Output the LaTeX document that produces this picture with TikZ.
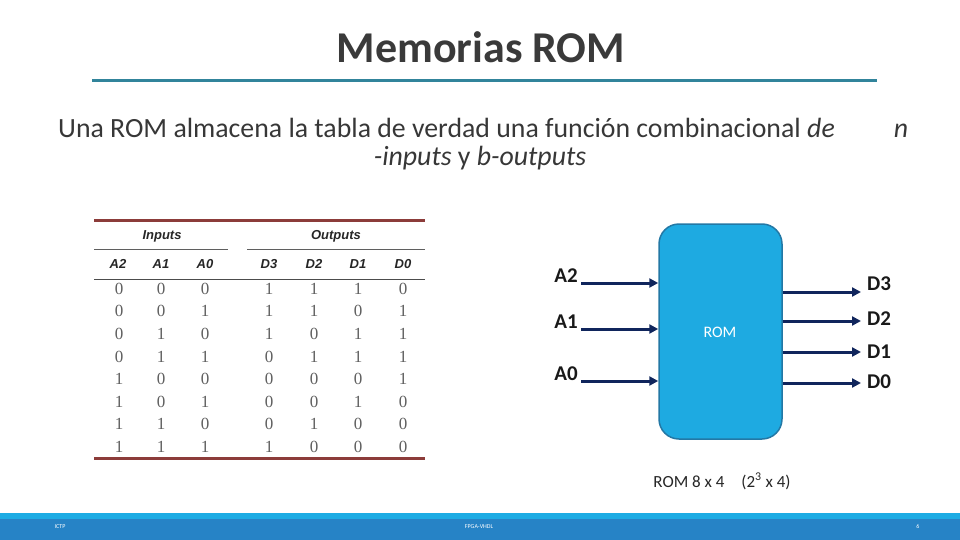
\documentclass[tikz,border=0pt]{standalone}
\usepackage{fontspec}
\setmainfont{Carlito}
\newfontfamily\tabsans{Liberation Sans}
\newfontfamily\tabserif{Liberation Serif}
\usetikzlibrary{arrows.meta}
\definecolor{titlegray}{RGB}{58,58,58}
\definecolor{textgray}{RGB}{55,55,55}
\definecolor{ruleblue}{RGB}{49,132,155}
\definecolor{tabred}{RGB}{140,60,58}
\definecolor{tabgray}{RGB}{95,95,95}
\definecolor{romfill}{RGB}{30,170,225}
\definecolor{romdraw}{RGB}{35,120,165}
\definecolor{navy}{RGB}{16,37,92}
\definecolor{footlight}{RGB}{29,172,228}
\definecolor{footdark}{RGB}{38,131,198}
\tikzset{
  hdr/.style={font=\tabsans\bfseries\itshape\fontsize{13}{14}\selectfont, text=black!85, inner sep=0pt, anchor=base},
  val/.style={font=\tabserif\fontsize{17}{18}\selectfont, text=tabgray, inner sep=0pt, anchor=base},
  sig/.style={-{Triangle[length=9pt,width=9pt]}, line width=3pt, draw=navy},
  pinlbl/.style={font=\bfseries\fontsize{21}{23}\selectfont, text=black!90, inner sep=0pt},
  foot/.style={font=\fontsize{6}{7}\selectfont, text=white, inner sep=0pt},
  subtxt/.style={font=\fontsize{27.8}{30}\selectfont, text=textgray, inner sep=0pt},
}
\begin{document}
\begin{tikzpicture}[x=1pt,y=-1pt]
\useasboundingbox (0,0) rectangle (960,540);
% title
\node[font=\bfseries\fontsize{44}{48}\selectfont, text=titlegray, anchor=base, inner sep=0pt] (title) at (481,63) {Memorias ROM};
\draw[ruleblue, line width=3pt] (92,81) coordinate (tl1) -- (877,81) coordinate (tl2);
% subtitle
\node[subtxt, anchor=base west] (sub1) at (58,138) {Una ROM almacena la tabla de verdad una función combinacional \textit{de}};
\node[subtxt, anchor=base] (subn) at (901,138) {\textit{n}};
\node[subtxt, anchor=base] (sub2) at (480,165) {\textit{-inputs} y \textit{b-outputs}};
% table
\draw[tabred, line width=3pt] (94,220) coordinate (tt1) -- (425,220) coordinate (tt2);
\draw[tabred, line width=3pt] (94,458) coordinate (tb1) -- (425,458) coordinate (tb2);
\draw[tabgray, line width=0.8pt] (94,249) coordinate (ti1) -- (228,249) coordinate (ti2);
\draw[tabgray, line width=0.8pt] (247,249) coordinate (to1) -- (425,249) coordinate (to2);
\draw[black!70, line width=0.8pt] (94,279) coordinate (th1) -- (425,279) coordinate (th2);
\node[hdr] (hin) at (162,239) {Inputs};
\node[hdr] (hout) at (336,239) {Outputs};
\foreach \n/\x in {A2/118,A1/161,A0/205,D3/269,D2/314,D1/358,D0/403}{
  \node[hdr] (h\n) at (\x,268.5) {\n};
}
\foreach \r/\y/\a/\b/\c/\d/\e/\f/\g in {
  1/294.5/0/0/0/1/1/1/0,
  2/316/0/0/1/1/1/0/1,
  3/339/0/1/0/1/0/1/1,
  4/362/0/1/1/0/1/1/1,
  5/384.5/1/0/0/0/0/0/1,
  6/407/1/0/1/0/0/1/0,
  7/429.5/1/1/0/0/1/0/0,
  8/452.5/1/1/1/1/0/0/0}{
  \node[val] (v\r a) at (119,\y) {\a};
  \node[val] (v\r b) at (161,\y) {\b};
  \node[val] (v\r c) at (205,\y) {\c};
  \node[val] (v\r d) at (269,\y) {\d};
  \node[val] (v\r e) at (314,\y) {\e};
  \node[val] (v\r f) at (358,\y) {\f};
  \node[val] (v\r g) at (403,\y) {\g};
}
% ROM block
\node[draw=romdraw, fill=romfill, line width=1.5pt, rounded corners=20pt,
      minimum width=123pt, minimum height=215pt, inner sep=0pt] (rom) at (720.5,331.5) {};
\node[font=\fontsize{16}{18}\selectfont, text=white, inner sep=0pt] (romtxt) at (720,332) {ROM};
% inputs
\foreach \n/\y in {A2/283,A1/329,A0/381}{
  \node[pinlbl, anchor=base east] (l\n) at (578,\y-1) {\n};
  \coordinate (s\n) at (581,\y);
  \draw[sig] (s\n) -- (s\n -| rom.west);
}
% outputs
\foreach \n/\y/\by in {D3/292/290,D2/321/325,D1/352/358,D0/383/388}{
  \node[pinlbl, anchor=base west] (l\n) at (867,\by) {\n};
  \coordinate (e\n) at (861,\y);
  \draw[sig] (e\n -| rom.east) -- (e\n);
}
% caption
\node[font=\fontsize{17}{19}\selectfont, text=black!85, anchor=base, inner sep=0pt] (cap) at (722,487) {ROM 8 x 4\quad(2\textsuperscript{3} x 4)};
% footer
\fill[footlight] (0,513) rectangle (960,519);
\fill[footdark] (0,519) rectangle (960,540);
\node[foot] (f1) at (60,527) {ICTP};
\node[foot] (f2) at (479,527) {FPGA-VHDL};
\node[foot] (f3) at (918,526) {6};
\end{tikzpicture}
\end{document}
